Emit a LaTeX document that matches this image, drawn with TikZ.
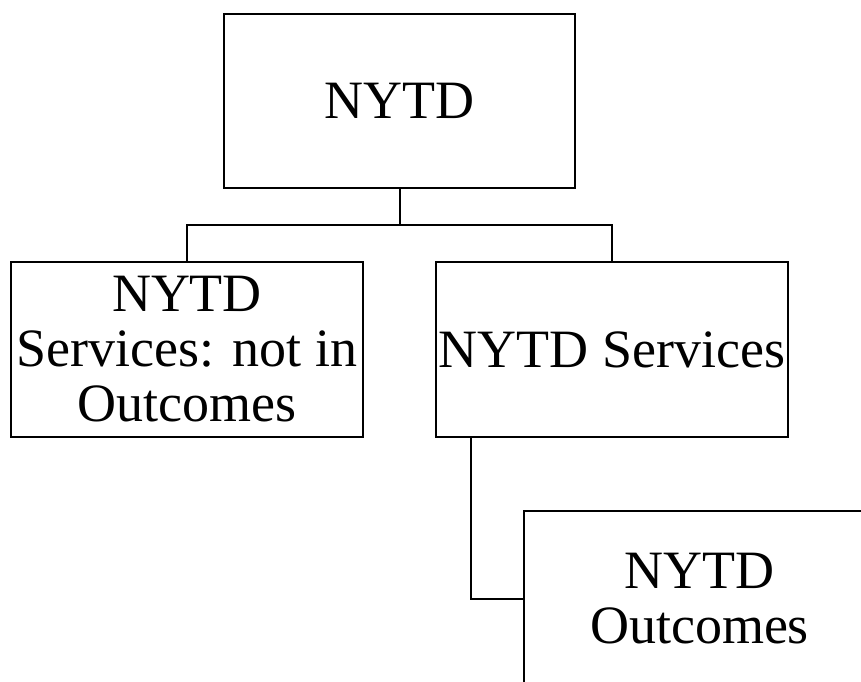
\documentclass[tikz,border=0pt]{standalone}
\usepackage{fontspec}
\setmainfont{Liberation Serif}
\begin{document}
\begin{tikzpicture}[x=1pt,y=-1pt,
  box/.style={draw=black,line width=2pt,fill=white,rectangle,inner sep=0pt,
    minimum width=352pt,minimum height=175pt,align=center,
    font=\fontsize{54}{55}\selectfont},
  link/.style={draw=black,line width=2pt}]
\useasboundingbox (0,0) rectangle (861,681);
\clip (0,0) rectangle (861,681);
\node[box,minimum width=351pt,minimum height=174pt] (top) at (399.5,101) {NYTD};
\node[box] (left) at (187,349.5) {NYTD\\Services: not in\\Outcomes};
\node[box] (right) at (612,349.5) {NYTD Services};
\node[box] (bottom) at (699.5,598.5) {NYTD\\Outcomes};
\coordinate (junc) at (399.5,225);
\coordinate (rdrop) at (471,437);
\draw[link] (top.south) -- (junc);
\draw[link] (left.north) |- (junc) -| (right.north);
\draw[link] (rdrop) |- (bottom.west);
\end{tikzpicture}
\end{document}
